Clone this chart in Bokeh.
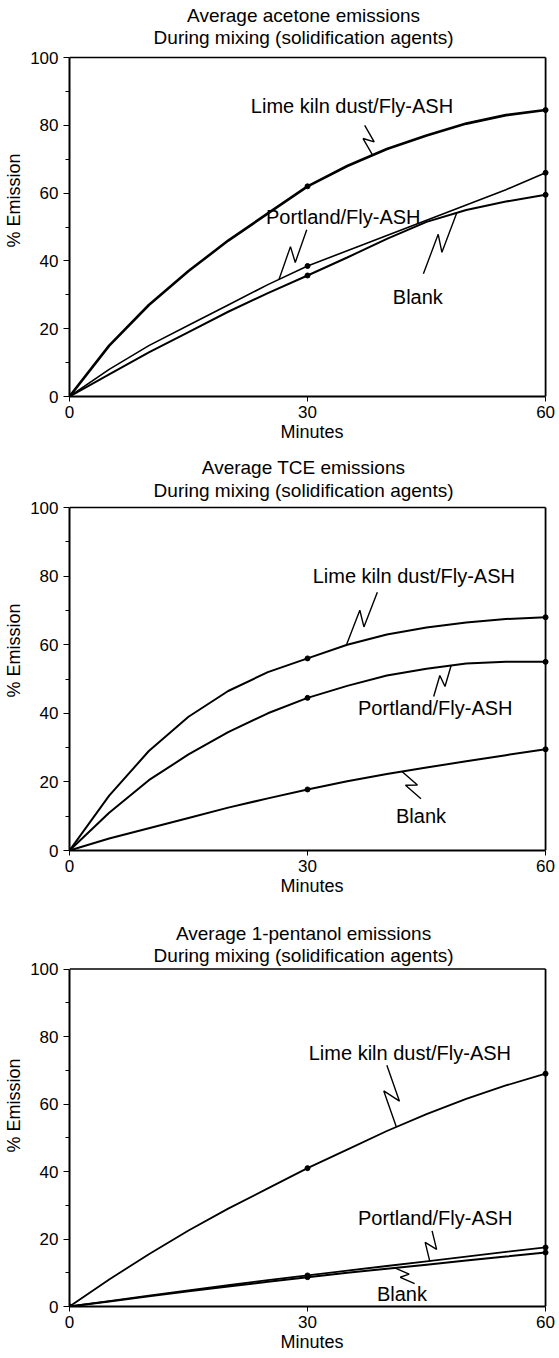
import numpy as np
from bokeh.plotting import figure
from bokeh.models import Range1d, FixedTicker, Label
from bokeh.layouts import column
from bokeh.embed import file_html
from bokeh.resources import INLINE

# ---------------- data ----------------
minutes = [0, 5, 10, 15, 20, 25, 30, 35, 40, 45, 50, 55, 60]
marker_minutes = [0, 30, 60]
x_ticks = [0, 30, 60]
y_ticks = [0, 20, 40, 60, 80, 100]
y_minor = [10, 30, 50, 70, 90]

acetone_lime = [0, 15, 27, 37, 46, 54, 62, 68, 73, 77, 80.5, 83, 84.5]
acetone_portland = [0, 8, 15, 21, 27, 33, 38.5, 43, 47.5, 52, 56.5, 61, 66]
acetone_blank = [0, 6.5, 13, 19, 25, 30.5, 35.7, 41, 46.5, 51.5, 55, 57.5, 59.5]

tce_lime = [0, 16, 29, 39, 46.5, 52, 56, 60, 63, 65, 66.5, 67.5, 68]
tce_portland = [0, 11, 20.5, 28, 34.5, 40, 44.5, 48, 51, 53, 54.5, 55, 55]
tce_blank = [0, 3.5, 6.5, 9.5, 12.5, 15.2, 17.8, 20.2, 22.3, 24.2, 26, 27.8, 29.5]

pent_lime = [0, 8, 15.5, 22.5, 29, 35, 41, 46.5, 52, 57, 61.5, 65.5, 69]
pent_portland = [0, 1.6, 3.2, 4.8, 6.3, 7.8, 9.2, 10.6, 12, 13.4, 14.8, 16.2, 17.5]
pent_blank = [0, 1.5, 3, 4.5, 5.9, 7.3, 8.7, 10, 11.2, 12.4, 13.6, 14.8, 16]

name_lime = "Lime kiln dust/Fly-ASH"
name_portland = "Portland/Fly-ASH"
name_blank = "Blank"

titles = [
    ("Average acetone emissions", "During mixing (solidification agents)"),
    ("Average TCE emissions", "During mixing (solidification agents)"),
    ("Average 1-pentanol emissions", "During mixing (solidification agents)"),
]
x_label = "Minutes"
y_label = "% Emission"

FONT = "Liberation Sans"

# ---------------- layout / annotation placement ----------------
W = 559
TOPPAD = 4      # px above the (extended) frame
RPAD = 9        # px the frame extends beyond x = 60
charts = [
    dict(series=[(acetone_lime, 2.6), (acetone_portland, 1.6), (acetone_blank, 2.0)],
         left=69, right=550, top=57, fh=339, bottom=50, t1=42, t2=20,
         notes=[(name_lime, 35.6, 85.6, 37.2, 80.0, 0, 38.2, 5),
                (name_portland, 34.5, 52.9, 29.9, 49.2, 1, 26.4, 6),
                (name_blank, 43.9, 29.3, 44.6, 36.2, 2, 48.8, 6)]),
    dict(series=[(tce_lime, 2.0), (tce_portland, 2.0), (tce_blank, 2.0)],
         left=68, right=547, top=61, fh=343, bottom=50, t1=40, t2=17,
         notes=[(name_lime, 43.4, 80.0, 38.8, 75.3, 0, 34.9, 6),
                (name_portland, 46.1, 41.5, 45.9, 44.9, 1, 48.1, 5),
                (name_blank, 44.3, 10.2, 44.3, 15.1, 2, 41.9, 5)]),
    dict(series=[(pent_lime, 1.8), (pent_portland, 1.8), (pent_blank, 2.0)],
         left=67, right=545, top=69, fh=340, bottom=45, t1=36, t2=14,
         notes=[(name_lime, 42.9, 75.0, 40.0, 71.5, 0, 41.2, 7),
                (name_portland, 46.1, 26.3, 45.7, 22.4, 1, 45.4, 6),
                (name_blank, 41.9, 3.7, 43.5, 6.8, 2, 41.0, 4)]),
]


def zigzag(p, x0, y0, x1, y1, sx, sy, amp):
    # leader with a lightning kink, built in pixel space
    X0, Y0, X1, Y1 = x0 * sx, y0 * sy, x1 * sx, y1 * sy
    dx, dy = X1 - X0, Y1 - Y0
    L = np.hypot(dx, dy)
    ux, uy = dx / L, dy / L
    px, py = -uy, ux
    A = (X0 + 0.6 * dx + px * amp, Y0 + 0.6 * dy + py * amp)
    B = (X0 + 0.4 * dx - px * amp, Y0 + 0.4 * dy - py * amp)
    xs = [X0, A[0], B[0], X1]
    ys = [Y0, A[1], B[1], Y1]
    p.line([v / sx for v in xs], [v / sy for v in ys], line_color="black", line_width=1.4)


figs = []
for (t1, t2), c in zip(titles, charts):
    fw = c["right"] - c["left"]
    sx = fw / 60.0
    sy = c["fh"] / 100.0
    H = c["top"] + c["fh"] + c["bottom"]
    xmax = x_ticks[-1] + RPAD / sx
    ymax = y_ticks[-1] + (c["top"] - TOPPAD) / sy
    p = figure(width=W, height=H, x_range=Range1d(0, xmax), y_range=Range1d(0, ymax),
               output_backend="svg", toolbar_location=None,
               min_border_left=c["left"], min_border_right=W - c["right"] - RPAD,
               min_border_top=TOPPAD, min_border_bottom=c["bottom"])
    p.xgrid.visible = False
    p.ygrid.visible = False
    p.background_fill_color = "white"
    p.border_fill_color = "white"
    p.outline_line_color = None

    p.xaxis.ticker = FixedTicker(ticks=x_ticks)
    p.yaxis.ticker = FixedTicker(ticks=y_ticks, minor_ticks=y_minor)
    p.xaxis.bounds = (x_ticks[0], x_ticks[-1])
    p.yaxis.bounds = (y_ticks[0], y_ticks[-1])
    for ax in (p.xaxis[0], p.yaxis[0]):
        ax.axis_line_width = 2
        ax.axis_line_color = "black"
        ax.major_tick_line_color = "black"
        ax.minor_tick_line_color = "black"
        ax.major_tick_in = 0
        ax.minor_tick_in = 0
        ax.major_label_text_font = FONT
        ax.major_label_text_font_size = "17px"
        ax.major_label_text_color = "black"
        ax.axis_label_text_font = FONT
        ax.axis_label_text_font_size = "18px"
        ax.axis_label_text_font_style = "normal"
        ax.axis_label_text_color = "black"
    p.yaxis.major_tick_out = 6
    p.yaxis.minor_tick_out = 4
    p.yaxis.major_label_standoff = 5
    p.yaxis.axis_label = y_label
    p.yaxis.axis_label_standoff = 3
    p.xaxis.major_tick_out = 5
    p.xaxis.minor_tick_out = 0
    p.xaxis.major_label_standoff = 4
    p.xaxis.axis_label = x_label
    p.xaxis.axis_label_standoff = 1

    # top and right borders of the box
    p.line([x_ticks[0], x_ticks[-1]], [y_ticks[-1], y_ticks[-1]], line_color="black", line_width=1.6)
    p.line([x_ticks[-1], x_ticks[-1]], [y_ticks[0], y_ticks[-1]], line_color="black", line_width=1.8)

    for vals, lw in c["series"]:
        p.line(minutes, vals, line_color="black", line_width=lw)
        mk = [vals[minutes.index(m)] for m in marker_minutes]
        p.scatter(marker_minutes, mk, marker="circle", size=5, fill_color="black", line_color="black")

    for text, lx, ly, x0, y0, si, tt, amp in c["notes"]:
        vals = c["series"][si][0]
        ty = float(np.interp(tt, minutes, vals))
        zigzag(p, x0, y0, tt, ty, sx, sy, amp)
        p.add_layout(Label(x=lx, y=ly, text=text, text_align="center", text_baseline="middle",
                           text_font=FONT, text_font_size="20px", text_color="black"))

    for txt, off in ((t1, c["t1"]), (t2, c["t2"])):
        p.add_layout(Label(x=29.5, y=y_ticks[-1] + off / sy, text=txt, text_align="center",
                           text_baseline="middle", text_font=FONT, text_font_size="19px",
                           text_color="black"))
    figs.append(p)

layout = column(*figs, spacing=0)
open("out.html", "w").write(file_html(layout, INLINE))
